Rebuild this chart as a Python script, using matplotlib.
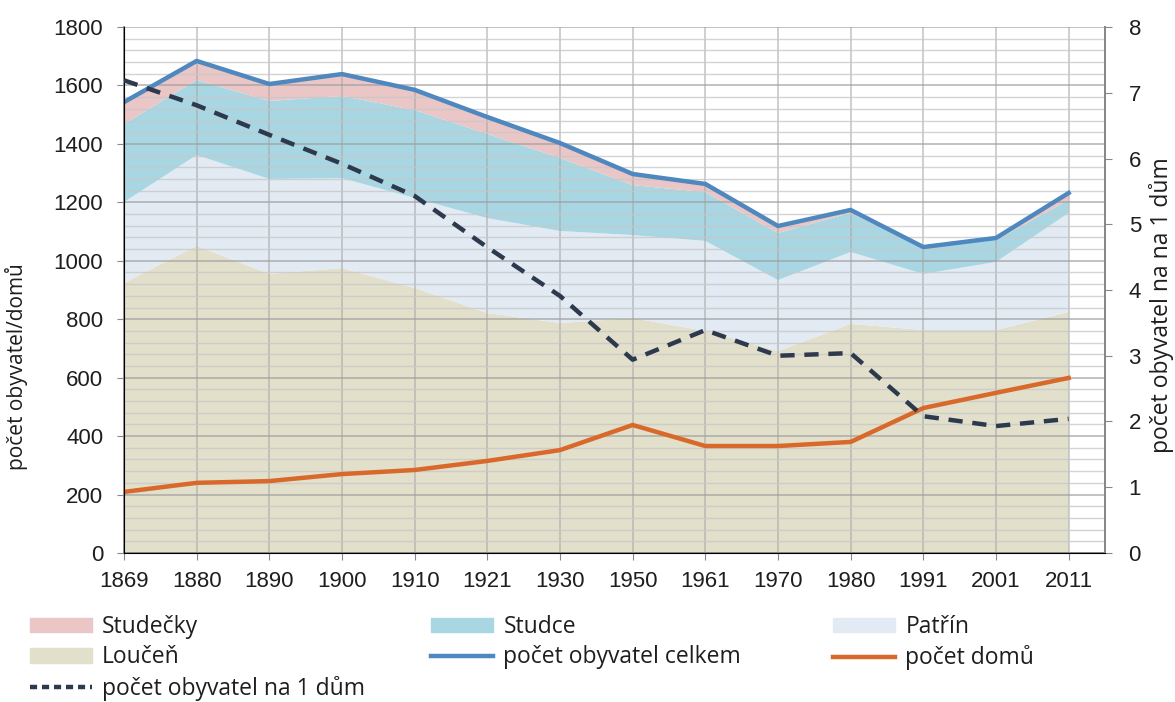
import matplotlib.pyplot as plt
import numpy as np
from matplotlib.lines import Line2D
from matplotlib.patches import Patch

plt.rcParams["font.family"] = ["Open Sans", "DejaVu Sans"]
tick_font = "Liberation Sans"

years = ["1869", "1880", "1890", "1900", "1910", "1921", "1930",
         "1950", "1961", "1970", "1980", "1991", "2001", "2011"]

# obyvatelé podle částí obce
loucen = [924, 1051, 955, 975, 907, 821, 787, 804, 760, 691, 784, 763, 763, 825]
patrin = [277, 311, 325, 308, 308, 325, 315, 284, 308, 243, 246, 192, 233, 339]
studce = [267, 257, 267, 281, 301, 288, 250, 171, 167, 161, 134, 89, 75, 44]
studecky = [75, 65, 58, 75, 69, 58, 51, 38, 28, 24, 10, 3, 7, 24]
celkem = [1543, 1684, 1605, 1639, 1585, 1492, 1403, 1297, 1263, 1119, 1174, 1047, 1078, 1232]
domy = [209, 240, 246, 270, 284, 315, 352, 438, 366, 366, 380, 496, 548, 599]
na_dum = [7.19, 6.81, 6.36, 5.92, 5.43, 4.65, 3.91, 2.94, 3.39, 3.00, 3.04, 2.08, 1.93, 2.04]

c_studecky = "#ebc6c6"
c_studce = "#a8d6e2"
c_patrin = "#e2eaf3"
c_loucen = "#e2dfcb"
c_celkem = "#4f87bf"
c_domy = "#d9692b"
c_ratio = "#2d394c"
c_text = "#1e1e1e"

x = np.arange(len(years))

fig = plt.figure(figsize=(11.75, 7.02), dpi=100)
ax = fig.add_axes([0.1055, 0.2123, 0.8349, 0.7492])

ax.stackplot(x, loucen, patrin, studce, studecky,
             colors=[c_loucen, c_patrin, c_studce, c_studecky], linewidth=0)
ax.plot(x, celkem, color=c_celkem, lw=3.2, zorder=3)
ax.plot(x, domy, color=c_domy, lw=3.2, zorder=3)

ax.set_xlim(0, 13.5)
ax.set_ylim(0, 1800)
ax.set_yticks(np.arange(0, 1801, 200))
ax.set_yticks(np.arange(0, 1801, 40), minor=True)
ax.set_xticks(x)
ax.set_xticklabels(years)
ax.set_axisbelow("line")
ax.grid(axis="y", which="major", color="#9e9e9e", lw=1.1, alpha=0.8)
ax.grid(axis="y", which="minor", color="#c8c8c8", lw=1.0, alpha=0.8)
ax.grid(axis="x", which="major", color="#a8a8a8", lw=1.1, alpha=0.7)
ax.tick_params(axis="y", which="major", labelsize=16, length=5,
               color="#888888", direction="out", pad=10, labelcolor=c_text)
ax.tick_params(axis="x", which="major", labelsize=16, length=5,
               color="#888888", direction="out", pad=8, labelcolor=c_text)
ax.tick_params(axis="y", which="minor", length=0)
for lab in ax.get_xticklabels() + ax.get_yticklabels():
    lab.set_fontfamily(tick_font)
ax.spines["top"].set_visible(False)
for side in ["left", "bottom", "right"]:
    ax.spines[side].set_color("#888888")
    ax.spines[side].set_linewidth(1.3)
ax.set_ylabel("počet obyvatel/domů", fontsize=15, color=c_text)
ax.yaxis.set_label_coords(-0.098, 0.354)

ax2 = ax.twinx()
ax2.plot(x, na_dum, color=c_ratio, lw=3.2, ls=(0, (3.2, 2.2)), zorder=4)
ax2.set_ylim(0, 8)
ax2.set_yticks(range(0, 9))
ax2.tick_params(axis="y", labelsize=16, length=5, color="#888888", pad=12,
                labelcolor=c_text)
for lab in ax2.get_yticklabels():
    lab.set_fontfamily(tick_font)
ax2.spines["top"].set_visible(False)
ax2.spines["right"].set_color("#888888")
ax2.spines["right"].set_linewidth(1.3)
ax2.set_ylabel("počet obyvatel na na 1 dům", fontsize=16.5, color=c_text)
ax2.yaxis.set_label_coords(1.045, 0.471)

# legenda ve třech sloupcích
col1 = [Patch(color=c_studecky, label="Studečky"),
        Patch(color=c_loucen, label="Loučeň"),
        Line2D([], [], color=c_ratio, lw=3.2, ls=(0, (1.6, 1.1)), label="počet obyvatel na 1 dům")]
col2 = [Patch(color=c_studce, label="Studce"),
        Line2D([], [], color=c_celkem, lw=3.2, label="počet obyvatel celkem")]
col3 = [Patch(color=c_patrin, label="Patřín"),
        Line2D([], [], color=c_domy, lw=3.2, label="počet domů")]

for handles, xpos in [(col1, 0.0255), (col2, 0.367), (col3, 0.709)]:
    fig.legend(handles=handles, loc="upper left", bbox_to_anchor=(xpos, 0.124),
               frameon=False, fontsize=16.5, handlelength=2.7, handleheight=0.6,
               handletextpad=0.45, labelspacing=0.28, borderaxespad=0,
               borderpad=0, labelcolor=c_text)

fig.savefig("out.png", dpi=100)
